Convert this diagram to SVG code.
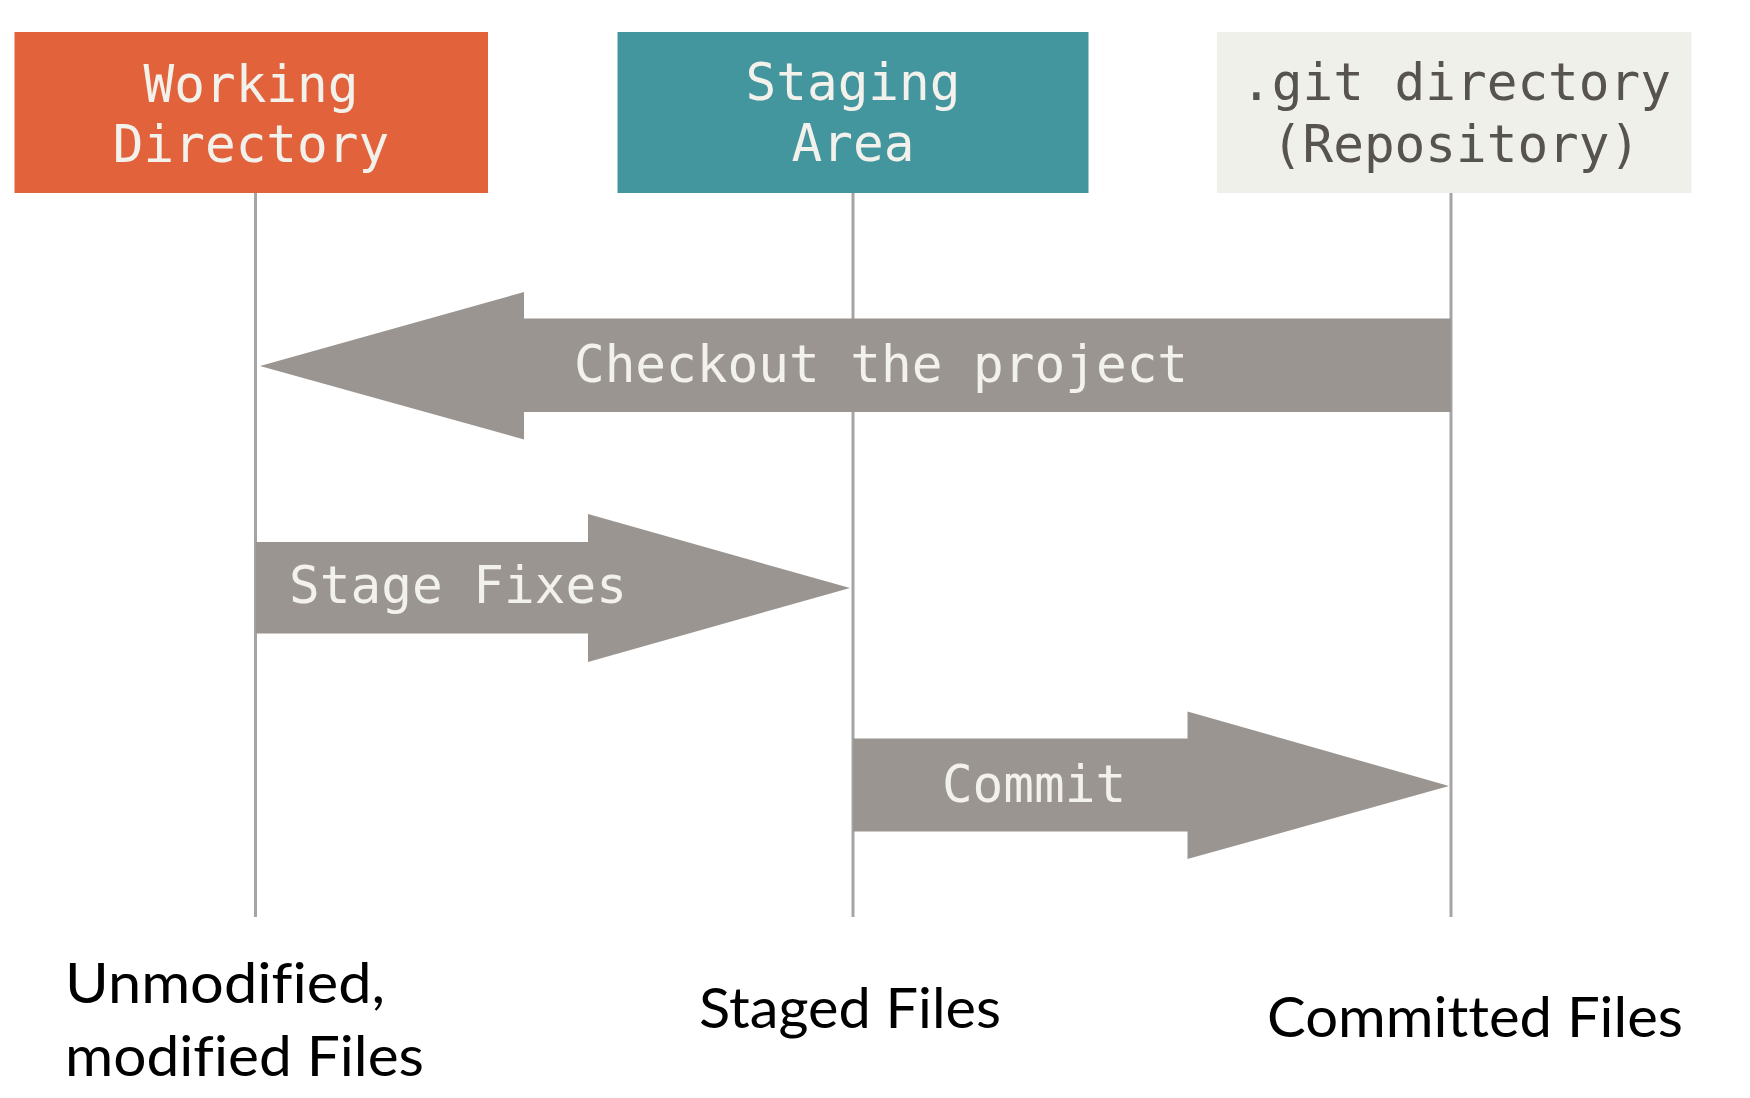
<svg xmlns="http://www.w3.org/2000/svg" width="1750" height="1098" viewBox="0 0 1750 1098">
  <style>
    .mono { font-family: "DejaVu Sans Mono", "Liberation Mono", monospace; font-size: 51px; text-anchor: middle; }
    .light { fill: #F3F1EC; }
    .dark { fill: #57534F; }
    .lane { stroke: #A5A5A5; stroke-width: 3; fill: none; }
    .arrow { fill: #9A9590; }
    .label { font-family: "Lato", "Open Sans", "Liberation Sans", sans-serif; font-size: 56px; fill: #000000; font-variant-ligatures: none; }
  </style>
  <rect x="0" y="0" width="1750" height="1098" fill="#FFFFFF"/>

  <g id="lanes">
    <line class="lane" x1="255.5" y1="193" x2="255.5" y2="917"/>
    <line class="lane" x1="853" y1="193" x2="853" y2="917"/>
    <line class="lane" x1="1451" y1="193" x2="1451" y2="917"/>
  </g>

  <g id="node-working">
    <rect x="14.5" y="32" width="473.5" height="161" fill="#E2623B"/>
    <text class="mono light" x="251" y="102">Working</text>
    <text class="mono light" x="251" y="162">Directory</text>
  </g>

  <g id="node-staging">
    <rect x="617.5" y="32" width="471" height="161" fill="#43959E"/>
    <text class="mono light" x="853" y="100">Staging</text>
    <text class="mono light" x="853" y="161">Area</text>
  </g>

  <g id="node-git">
    <rect x="1217" y="32" width="474.5" height="161" fill="#F0F0EB"/>
    <text class="mono dark" x="1456" y="100">.git directory</text>
    <text class="mono dark" x="1456" y="162">(Repository)</text>
  </g>

  <g id="connectors">
    <g id="edge-checkout">
      <polygon class="arrow" points="260,366 524,292 524,318.5 1451,318.5 1451,412 524,412 524,439.5"/>
      <text class="mono light" x="881" y="382">Checkout the project</text>
    </g>
    <g id="edge-stage">
      <polygon class="arrow" points="255.5,542 588,542 588,514 850,588 588,662 588,633.5 255.5,633.5"/>
      <text class="mono light" x="458" y="603">Stage Fixes</text>
    </g>
    <g id="edge-commit">
      <polygon class="arrow" points="853,738.5 1187.5,738.5 1187.5,711.5 1449,786 1187.5,859 1187.5,831.5 853,831.5"/>
      <text class="mono light" x="1034" y="802">Commit</text>
    </g>
  </g>

  <g id="labels">
    <text class="label" x="65" y="1003" textLength="320" lengthAdjust="spacingAndGlyphs">Unmodified,</text>
    <text class="label" x="65" y="1076" textLength="359" lengthAdjust="spacingAndGlyphs">modified Files</text>
    <text class="label" x="699" y="1028" textLength="302" lengthAdjust="spacingAndGlyphs">Staged Files</text>
    <text class="label" x="1267" y="1037" textLength="416" lengthAdjust="spacingAndGlyphs">Committed Files</text>
  </g>
</svg>
